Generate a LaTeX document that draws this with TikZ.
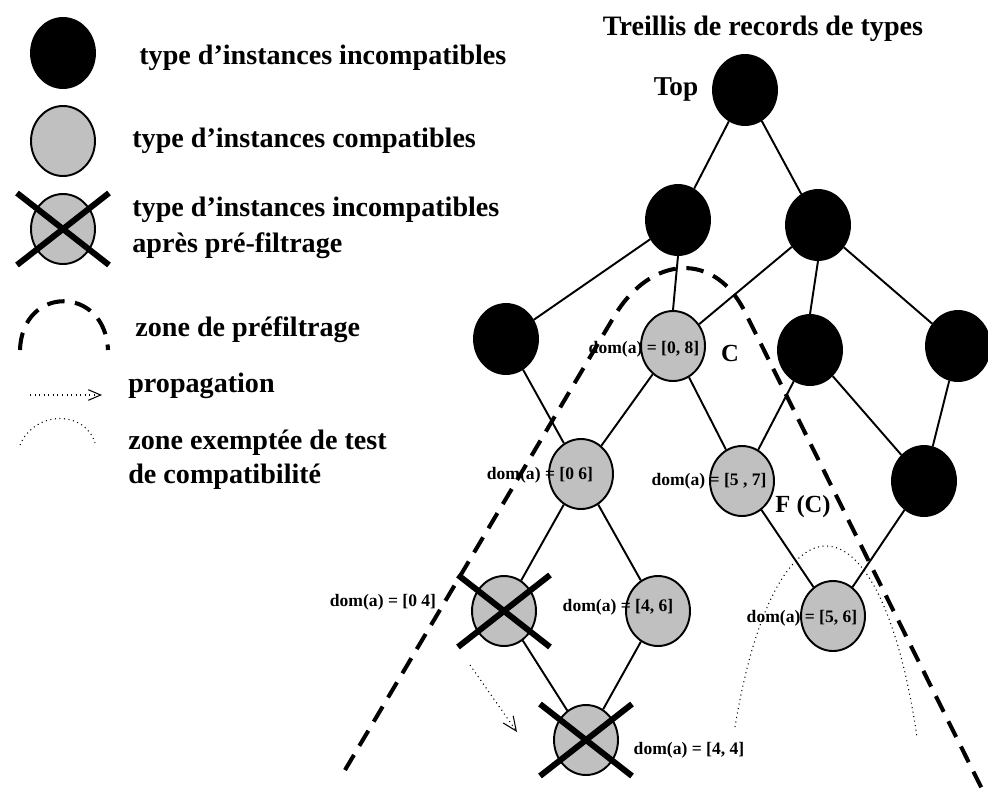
\documentclass[tikz,border=0pt]{standalone}
\usepackage{fontspec}
\setmainfont{Liberation Serif}
\usepackage{tikz}
\usetikzlibrary{arrows.meta, positioning, calc, shapes.geometric}
\usepackage{xcolor}
\definecolor{typegray}{RGB}{192,192,192}

\tikzset{
  blacktype/.style={ellipse, draw=black, fill=black, line width=1.1pt,
    minimum width=1.28cm, minimum height=1.40cm, inner sep=0pt},
  graytype/.style={blacktype, fill=typegray},
  link/.style={line width=1.1pt},
  crossline/.style={line width=3.4pt},
  zoneline/.style={line width=2.3pt, dash pattern=on 10pt off 6pt},
  dotline/.style={line width=0.6pt, dash pattern=on 0.6pt off 2pt},
  legtext/.style={anchor=west, inner sep=0pt, font=\fontsize{16}{19}\selectfont\bfseries},
  domlabel/.style={inner sep=0pt, font=\fontsize{10}{12}\selectfont\bfseries},
  biglabel/.style={inner sep=0pt, font=\fontsize{14}{17}\selectfont\bfseries},
}

\begin{document}
\begin{tikzpicture}[x=0.02cm, y=-0.02cm]
  \useasboundingbox (0,0) rectangle (988,798);

  % Legend
  \node[blacktype] (lgb) at (63,53) {};
  \node[graytype] (lgg) at (63,141) {};
  \node[graytype] (lgx) at (63,229) {};
  \node[legtext] (tx1) at (139,58) {type d’instances incompatibles};
  \node[legtext] (tx2) at (132,141) {type d’instances compatibles};
  \node[legtext] (tx3) at (132,210) {type d’instances incompatibles};
  \node[legtext] (tx4) at (132,246) {après pré-filtrage};
  \node[legtext] (tx5) at (135,330) {zone de préfiltrage};
  \node[legtext] (tx6) at (128,386) {propagation};
  \node[legtext] (tx7) at (128,443) {zone exemptée de test};
  \node[legtext] (tx8) at (128,477) {de compatibilité};
  \coordinate (lz1) at (20,350);
  \coordinate (lz2) at (108,350);
  \draw[zoneline] (lz1) .. controls (22,285) and (105,285) .. (lz2);
  \coordinate (la1) at (30,395);
  \coordinate (la2) at (102,395);
  \draw[dotline, -{Straight Barb[length=7pt, width=6pt, line width=0.6pt]}] (la1) -- (la2);
  \coordinate (ld1) at (20,445);
  \coordinate (ld2) at (95,443);
  \draw[dotline] (ld1) .. controls (35,410) and (85,410) .. (ld2);

  % Lattice
  \node[font=\fontsize{16}{19}\selectfont\bfseries] (title) at (763,29) {Treillis de records de types};
  \node[blacktype] (top) at (745,90) {};
  \node[font=\fontsize{15.5}{18}\selectfont\bfseries, inner sep=0pt] (toplab) at (676,89) {Top};
  \node[blacktype] (l2l) at (678,220) {};
  \node[blacktype] (l2r) at (818,225) {};
  \node[blacktype] (l3a) at (506,339) {};
  \node[graytype] (c) at (673,346) {};
  \node[blacktype] (l3b) at (810,350) {};
  \node[blacktype] (l3c) at (958,346) {};
  \node[graytype] (d06) at (581,474) {};
  \node[graytype] (d57) at (742,481) {};
  \node[blacktype] (l4) at (924,481) {};
  \node[graytype] (x04) at (504,611) {};
  \node[graytype] (d46) at (658,611) {};
  \node[graytype] (d56) at (833,616) {};
  \node[graytype] (x44) at (586,740) {};

  \draw[link] (top) -- (l2l);
  \draw[link] (top) -- (l2r);
  \draw[link] (l2l) -- (l3a);
  \draw[link] (l2l.south) -- (c.north);
  \draw[link] (l2r) -- (c);
  \draw[link] (l2r.south) -- (l3b.north);
  \draw[link] (l2r) -- (l3c);
  \draw[link] (l3a) -- (d06);
  \draw[link] (c) -- (d06);
  \draw[link] (c) -- (d57);
  \draw[link] (l3b) -- (d57);
  \draw[link] (l3b) -- (l4);
  \draw[link] (l3c) -- (l4);
  \draw[link] (d06) -- (x04);
  \draw[link] (d06) -- (d46);
  \draw[link] (d57) -- (d56);
  \draw[link] (l4) -- (d56);
  \draw[link] (x04) -- (x44);
  \draw[link] (d46) -- (x44);

  % Crosses
  \foreach \n in {lgx, x04, x44}
    \draw[crossline] ([shift={(-46,-36)}]\n.center) -- ([shift={(46,36)}]\n.center)
                     ([shift={(-46,36)}]\n.center) -- ([shift={(46,-36)}]\n.center);

  % Labels
  \node[domlabel] (lab08) at (644,349) {dom(a) = [0, 8]};
  \node[biglabel] (labc) at (730,353) {C};
  \node[domlabel] (lab06) at (540,475) {dom(a) = [0 6]};
  \node[domlabel] (lab57) at (709,481) {dom(a) = [5 , 7]};
  \node[biglabel] (labf) at (803,507) {F (C)};
  \node[domlabel] (lab04) at (383,602) {dom(a) = [0 4]};
  \node[domlabel] (lab46) at (618,607) {dom(a) = [4, 6]};
  \node[domlabel] (lab56) at (802,618) {dom(a) = [5, 6]};
  \node[domlabel] (lab44) at (689,750) {dom(a) = [4, 4]};

  % Zones
  \coordinate (zl) at (345,770);
  \coordinate (zr) at (985,795);
  \draw[zoneline] (zl) -- (615,315) .. controls (651,256) and (714,250) .. (745,312) -- (zr);
  \coordinate (el) at (735,727);
  \coordinate (er) at (917,737);
  \draw[dotline] (el) .. controls (775,484) and (880,484) .. (er);
  \coordinate (pa) at (470,665);
  \coordinate (pb) at (517,732);
  \draw[dotline, -{Straight Barb[length=8pt, width=7pt, line width=0.6pt]}] (pa) -- (pb);
\end{tikzpicture}
\end{document}
